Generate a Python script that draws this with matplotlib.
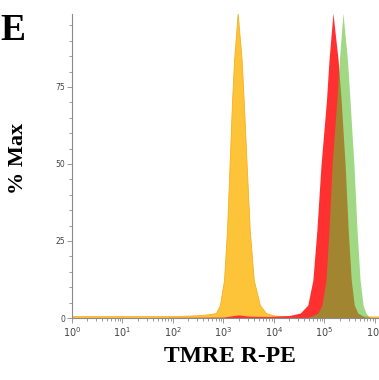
import numpy as np
import matplotlib
matplotlib.use("Agg")
import matplotlib.pyplot as plt
from matplotlib.ticker import LogLocator, FixedLocator, NullFormatter

# histogram outlines: log10(intensity), % of max
yellow_log = [0.0, 2.0, 2.5, 2.7, 2.85, 2.93, 3.01, 3.07, 3.12, 3.17, 3.21,
              3.281, 3.36, 3.40, 3.46, 3.52, 3.60, 3.72, 3.84, 4.0, 4.3, 6.08]
yellow_pct = [0.6, 0.6, 0.9, 1.2, 1.6, 4.2, 12.3, 28.6, 49.4, 70.8, 83.8,
              99, 83.8, 70.8, 49.4, 28.6, 12.3, 4.2, 1.6, 0.8, 0.5, 0.5]

red_log = [0.0, 3.0, 3.2, 3.3, 3.5, 3.9, 4.3, 4.52, 4.67, 4.77, 4.85, 4.93,
           5.04, 5.09, 5.168, 5.27, 5.33, 5.41, 5.47, 5.53, 5.59, 5.66, 5.8, 6.08]
red_pct = [0, 0.3, 0.8, 1.0, 0.6, 0.5, 0.8, 1.6, 4.2, 12.3, 28.6, 49.4,
           70.8, 83.8, 99, 83.8, 70.8, 49.4, 28.6, 12.3, 4.2, 1.6, 0.3, 0]

green_log = [4.5, 4.7, 4.87, 4.95, 5.03, 5.09, 5.15, 5.245, 5.295, 5.366,
             5.455, 5.505, 5.585, 5.645, 5.705, 5.765, 5.82, 5.9]
green_pct = [0, 0.3, 1.6, 4.2, 12.3, 28.6, 49.4, 70.8, 83.8, 99,
             83.8, 70.8, 49.4, 28.6, 12.3, 4.2, 1.6, 0]

major_ticks = [0, 25, 50, 75]
decades = [0, 1, 2, 3, 4, 5, 6]

fig = plt.figure(figsize=(3.79, 3.80), dpi=100)
ax = fig.add_axes([72 / 379, 62 / 380, 307 / 379, 304 / 380])

ax.fill_between(10 ** np.array(yellow_log), yellow_pct, color="#FDC43A", lw=0.6,
                edgecolor="#F5B020")
ax.fill_between(10 ** np.array(red_log), red_pct, color="#FF3030", lw=0)
ax.fill_between(10 ** np.array(green_log), green_pct, color="#62BE32", alpha=0.6, lw=0)

ax.set_xscale("log")
ax.set_xlim(1, 10 ** 6.08)
ax.set_ylim(0, 98.7)

for s in ["top", "right"]:
    ax.spines[s].set_visible(False)
for s in ["left", "bottom"]:
    ax.spines[s].set_color("#8a8a8a")
    ax.spines[s].set_linewidth(0.8)

ax.yaxis.set_major_locator(FixedLocator(major_ticks))
ax.yaxis.set_minor_locator(FixedLocator([v for v in range(5, 100, 5) if v % 25]))
ax.set_yticklabels([str(v) for v in major_ticks])
ax.xaxis.set_major_locator(FixedLocator([10 ** d for d in decades]))
ax.set_xticklabels([r"$10^{%d}$" % d for d in decades])
ax.xaxis.set_minor_locator(LogLocator(base=10, subs=np.arange(2, 10)))
ax.xaxis.set_minor_formatter(NullFormatter())

ax.tick_params(which="both", direction="out", color="#8a8a8a", width=0.6,
               labelsize=5.5, labelcolor="#444444", pad=1.5)
ax.tick_params(which="major", length=3.5)
ax.tick_params(which="minor", length=2)
ax.tick_params(axis="x", labelsize=7)

fig.text(0.0, 0.965, "E", fontsize=27, fontweight="bold",
         family="Liberation Serif", va="top", ha="left")
fig.text(18 / 379, 1 - 158 / 380, "% Max", fontsize=16, fontweight="bold",
         family="Liberation Serif", rotation=90, va="center", ha="center")
fig.text(230 / 379, 1 - 357 / 380, "TMRE R-PE", fontsize=17, fontweight="bold",
         family="Liberation Serif", va="center", ha="center")

fig.savefig("out.png", dpi=100)
